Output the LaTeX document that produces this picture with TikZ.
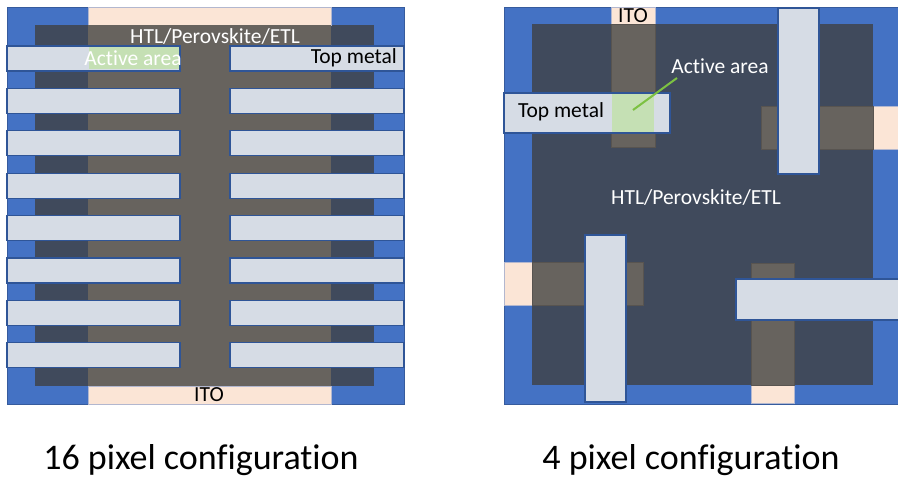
\documentclass[tikz,border=0pt]{standalone}
\usepackage{fontspec}
\setmainfont[Ligatures=NoCommon]{Carlito}
\usetikzlibrary{positioning}
\definecolor{subblue}{HTML}{4472C4}
\definecolor{stackgray}{HTML}{404A5C}
\definecolor{itogray}{HTML}{67635E}
\definecolor{itopeach}{HTML}{FBE5D6}
\definecolor{metalfill}{HTML}{D6DCE5}
\definecolor{metaledge}{HTML}{2F5597}
\definecolor{activegreen}{HTML}{C5E0B4}
\definecolor{pointgreen}{HTML}{7CC142}
\begin{document}
\begin{tikzpicture}[
  x=1pt, y=-1pt,
  every node/.style={font=\fontsize{21.5}{24}\selectfont, inner sep=0pt},
  substrate/.style={fill=subblue, draw=subblue!80!black, line width=0.6pt},
  stack/.style={fill=stackgray},
  itoline/.style={fill=itogray, draw=itogray!85!black, line width=0.5pt},
  itopad/.style={fill=itopeach, draw=itopeach!60!subblue, line width=0.5pt},
  metalbar/.style={fill=metalfill, draw=metaledge, line width=1.2pt},
  activebox/.style={fill=activegreen},
  caption/.style={font=\fontsize{36}{40}\selectfont}
]
  \useasboundingbox (0,0) rectangle (898,478);

  % 16 pixel configuration
  \draw[substrate] (7,7) rectangle (404,404);
  \fill[stack] (35,25) rectangle (374,386);
  \draw[itopad] (88,7) rectangle (331,25);
  \draw[itopad] (88,386) rectangle (331,404);
  \fill[itogray] (88,25) rectangle (331,386);
  \foreach \i in {0,...,7} {
    \draw[metalbar] (7,{46+42.4*\i}) rectangle (180,{71+42.4*\i});
    \draw[metalbar] (230,{46+42.4*\i}) rectangle (404,{71+42.4*\i});
  }
  \fill[activebox] (89,47.5) rectangle (178.5,69.5);
  \node[white] (stackL) at (215,36) {HTL/Perovskite/ETL};
  \node[white] (activeL) at (133,58) {Active area};
  \node[anchor=east] (metalL) at (397,58) {Top metal};
  \node (itoL) at (209,395) {ITO};

  % 4 pixel configuration
  \draw[substrate] (504,7) rectangle (898,404);
  \fill[stack] (532,24) rectangle (873,385);
  \draw[itopad] (611,7) rectangle (655,24);
  \draw[itopad] (873,106) rectangle (898,149);
  \draw[itopad] (504,262) rectangle (532,305);
  \draw[itopad] (751,385) rectangle (794,403);
  \draw[itoline] (611,24) rectangle (655,147);
  \draw[itoline] (761,106) rectangle (873,149);
  \draw[itoline] (532,262) rectangle (643,305);
  \draw[itoline] (751,263) rectangle (794,385);
  \draw[metalbar] (504,93) rectangle (670,133);
  \draw[metalbar] (778,8) rectangle (819,174);
  \draw[metalbar] (585,235) rectangle (626,402);
  \draw[metalbar] (736,279) rectangle (899,320);
  \fill[activebox] (611.6,93.6) rectangle (654.4,132.4);
  \node (itoR) at (633,16) {ITO};
  \node (metalR) at (561,112) {Top metal};
  \node[white] (activeR) at (720,66) {Active area};
  \coordinate (activeR pt) at (633,110);
  \draw[pointgreen, line width=2pt] (677,78) -- (activeR pt);
  \node[white] (stackR) at (696,197) {HTL/Perovskite/ETL};

  \node[caption] (capL) at (201,460) {16 pixel configuration};
  \node[caption] (capR) at (691,460) {4 pixel configuration};
\end{tikzpicture}
\end{document}
